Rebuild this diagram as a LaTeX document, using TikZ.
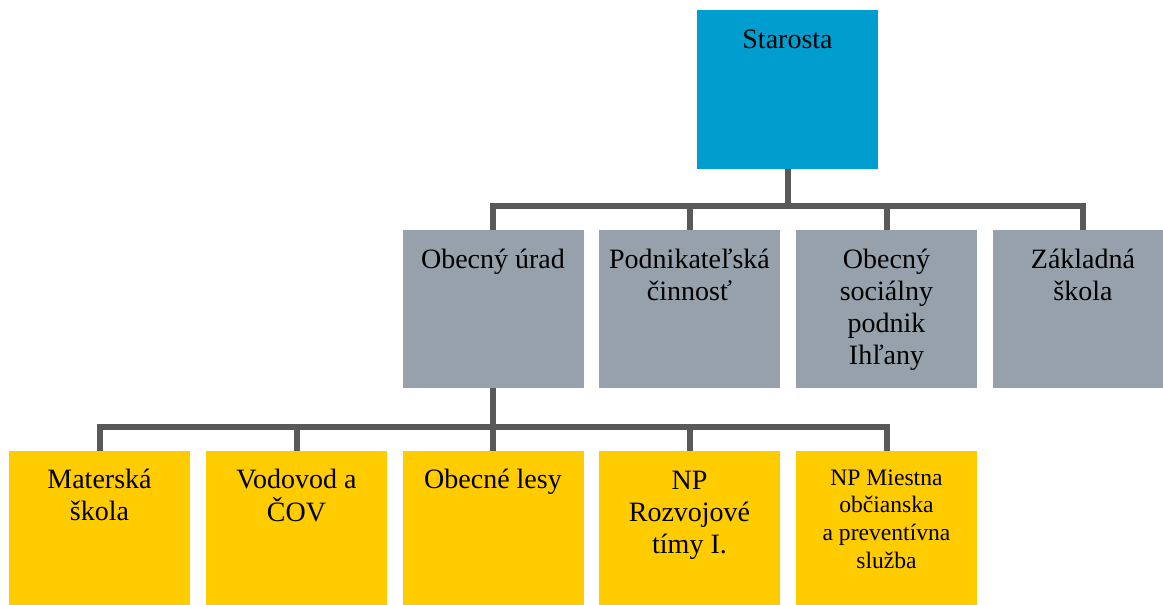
\documentclass[tikz,border=0pt]{standalone}
\usepackage{fontspec}
\setmainfont{Liberation Serif}
\definecolor{topblue}{RGB}{0,158,206}
\definecolor{midgrey}{RGB}{150,161,171}
\definecolor{lowyellow}{RGB}{255,204,0}
\definecolor{linegrey}{RGB}{89,89,89}
\setlength{\tabcolsep}{0pt}
\newcommand{\toplines}[1]{\begin{tabular}[t]{c}#1\end{tabular}}
\tikzset{
  box/.style={rectangle, draw=none, minimum width=181pt, minimum height=158pt, inner sep=0pt, anchor=north},
  bluebox/.style={box, fill=topblue, minimum height=159pt},
  greybox/.style={box, fill=midgrey},
  yellowbox/.style={box, fill=lowyellow},
  lbl/.style={anchor=base, inner sep=0pt, font=\fontsize{28}{32}\selectfont},
  smalllbl/.style={anchor=base, inner sep=0pt, font=\fontsize{23.6}{27.8}\selectfont},
  conn/.style={draw=linegrey, line width=6pt}
}
\begin{document}
\begin{tikzpicture}[x=1pt,y=-1pt]
\useasboundingbox (0,0) rectangle (1163,605);
% boxes
\node[bluebox] (st) at (787.5,10) {};
\node[greybox] (ou) at (493,230) {};
\node[greybox] (pc) at (689.5,230) {};
\node[greybox] (os) at (886.5,230) {};
\node[greybox] (zs) at (1083,230) {};
\node[yellowbox] (ms) at (99.5,451) {};
\node[yellowbox] (vc) at (296.5,451) {};
\node[yellowbox] (ol) at (493,451) {};
\node[yellowbox] (rt) at (689.5,451) {};
\node[yellowbox] (mo) at (886.5,451) {};
% bus coordinates
\coordinate (bus1) at (0,206);
\coordinate (bus2) at (0,427);
% connectors
\draw[conn] (st.south) -- (st.south |- bus1) -| (ou.north);
\draw[conn] (st.south |- bus1) -| (pc.north);
\draw[conn] (st.south |- bus1) -| (os.north);
\draw[conn] (st.south |- bus1) -| (zs.north);
\draw[conn] (ou.south) -- (ou.south |- bus2) -| (ms.north);
\draw[conn] (ou.south |- bus2) -| (vc.north);
\draw[conn] (ou.south |- bus2) -- (ol.north);
\draw[conn] (ou.south |- bus2) -| (rt.north);
\draw[conn] (ou.south |- bus2) -| (mo.north);
% labels
\node[lbl] (tst) at ([yshift=-38pt]st.north) {\toplines{Starosta}};
\node[lbl] (tou) at ([yshift=-38.5pt]ou.north) {\toplines{Obecný úrad}};
\node[lbl] (tpc) at ([yshift=-38.5pt]pc.north) {\toplines{Podnikateľská\\činnosť}};
\node[lbl] (tos) at ([yshift=-38.5pt]os.north) {\toplines{Obecný\\sociálny\\podnik\\Ihľany}};
\node[lbl] (tzs) at ([yshift=-38.5pt]zs.north) {\toplines{Základná\\škola}};
\node[lbl] (tms) at ([yshift=-37pt]ms.north) {\toplines{Materská\\škola}};
\node[lbl] (tvc) at ([yshift=-37pt]vc.north) {\toplines{Vodovod a\\ČOV}};
\node[lbl] (tol) at ([yshift=-37pt]ol.north) {\toplines{Obecné lesy}};
\node[lbl] (trt) at ([yshift=-38pt]rt.north) {\toplines{NP\\Rozvojové\\tímy I.}};
\node[smalllbl] (tmo) at ([yshift=-34pt]mo.north) {\toplines{NP Miestna\\občianska\\a preventívna\\služba}};
\end{tikzpicture}
\end{document}
